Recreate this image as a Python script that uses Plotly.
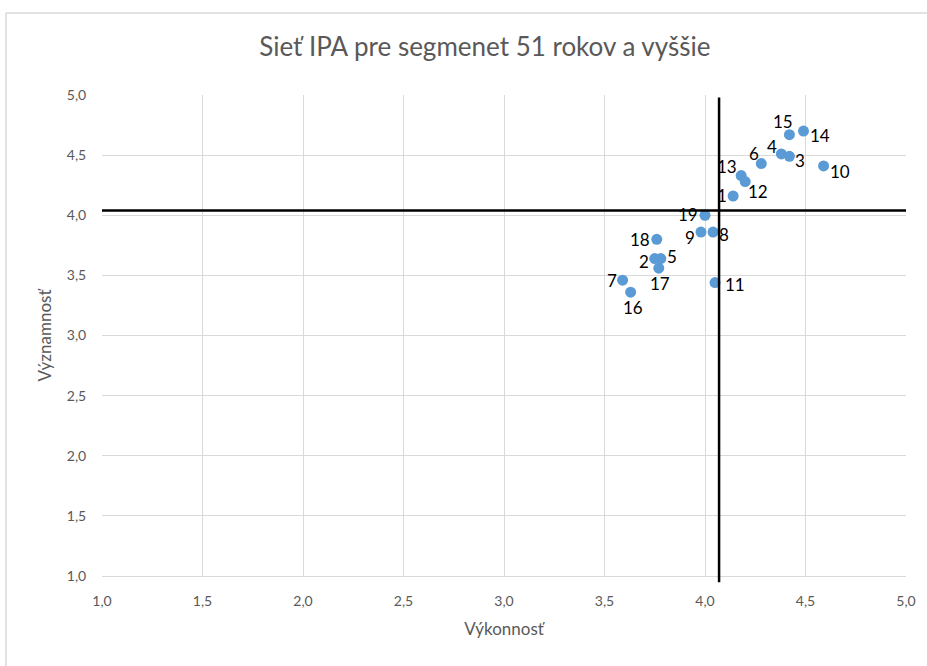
import plotly.graph_objects as go

labels = ["1", "2", "3", "4", "5", "6", "7", "8", "9", "10",
          "11", "12", "13", "14", "15", "16", "17", "18", "19"]
vykonnost = [4.14, 3.75, 4.42, 4.38, 3.78, 4.28, 3.59, 4.04, 3.98, 4.59,
             4.05, 4.20, 4.18, 4.49, 4.42, 3.63, 3.77, 3.76, 4.00]
vyznamnost = [4.16, 3.64, 4.49, 4.51, 3.64, 4.43, 3.46, 3.86, 3.86, 4.41,
              3.44, 4.28, 4.33, 4.70, 4.67, 3.36, 3.56, 3.80, 4.00]
mean_x = 4.07
mean_y = 4.04

# label offsets from each point (pixels, right / down)
label_dx = [-11, -11, 11, -9, 11, -7, -11, 11, -11, 16,
            20, 13, -14, 17, -6, 2, 1, -17, -17]
label_dy = [-1, 3, 4, -7, -2, -10, 0, 2, 5, 6,
            2, 10, -9, 4, -13, 15, 15, 0, -1]

title_text = "Sieť IPA pre segmenet 51 rokov a vyššie"
x_title = "Výkonnosť"
y_title = "Významnosť"

FONT = "Lato"
GRAY = "#595959"
GRID = "#d9d9d9"

fig = go.Figure()
fig.add_trace(go.Scatter(
    x=vykonnost, y=vyznamnost, mode="markers",
    text=labels,
    marker=dict(color="#5B9BD5", size=11),
    cliponaxis=False, showlegend=False, hoverinfo="x+y+text",
))

for lab, xv, yv, dx, dy in zip(labels, vykonnost, vyznamnost, label_dx, label_dy):
    fig.add_annotation(x=xv, y=yv, xref="x", yref="y", text=lab, showarrow=False,
                       xanchor="center", yanchor="middle", xshift=dx, yshift=-dy,
                       borderpad=0,
                       font=dict(family=FONT, size=17, color="#000000"))

fig.update_layout(
    width=927, height=666,
    margin=dict(l=102, r=21, t=95, b=90),
    paper_bgcolor="white", plot_bgcolor="white",
    separators=", ",
    font=dict(family=FONT, color=GRAY),
    title=dict(text=title_text, x=0.523, xanchor="center", y=0.93, yanchor="middle",
               font=dict(family=FONT, size=26, color=GRAY)),
    xaxis=dict(range=[1, 5], dtick=0.5, tick0=1, tickformat=".1f",
               showgrid=True, gridcolor=GRID, gridwidth=1,
               zeroline=False, showline=True, linecolor=GRID, linewidth=1,
               ticks="outside", ticklen=12, tickcolor="rgba(0,0,0,0)",
               tickfont=dict(family=FONT, size=14, color=GRAY),
               title=dict(text=x_title, standoff=15, font=dict(family=FONT, size=17, color=GRAY))),
    yaxis=dict(range=[1, 5], dtick=0.5, tick0=1, tickformat=".1f",
               showgrid=True, gridcolor=GRID, gridwidth=1,
               zeroline=False, showline=False,
               ticks="outside", ticklen=12, tickcolor="rgba(0,0,0,0)",
               tickfont=dict(family=FONT, size=14, color=GRAY),
               title=dict(text=y_title, standoff=10, font=dict(family=FONT, size=17, color=GRAY))),
)

# mean lines
fig.add_shape(type="line", xref="x", yref="y", x0=1, x1=5, y0=mean_y, y1=mean_y,
              line=dict(color="black", width=2.5))
fig.add_shape(type="line", xref="x", yref="paper", x0=mean_x, x1=mean_x, y0=-0.013, y1=0.995,
              line=dict(color="black", width=2.5))

# chart container border (left and top)
fig.add_shape(type="line", xref="paper", yref="paper", x0=-0.1194, x1=-0.1194, y0=1.1705, y1=-0.25,
              line=dict(color=GRID, width=1.5))
fig.add_shape(type="line", xref="paper", yref="paper", x0=-0.1194, x1=1.1, y0=1.1705, y1=1.1705,
              line=dict(color=GRID, width=1.5))

fig.write_html("out.html")
